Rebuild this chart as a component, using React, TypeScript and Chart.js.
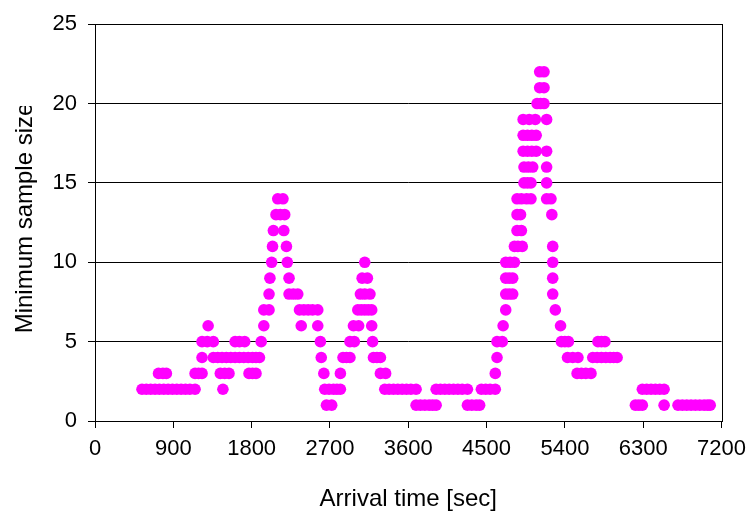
import React, { useEffect, useRef } from "react";
import { Chart, registerables } from "chart.js";

Chart.register(...registerables);

// Arrival times (sec) observed for each minimum sample size level
const size1 = [2660, 2720, 3690, 3740, 3790, 3840, 3880, 3920, 4280, 4330, 4380, 4420, 6210, 6250, 6290, 6540, 6700, 6750, 6800, 6850, 6900, 6950, 7000, 7040, 7070];
const size2 = [540, 590, 640, 690, 740, 790, 840, 890, 940, 990, 1040, 1090, 1150, 1470, 2640, 2690, 2740, 2780, 2820, 3330, 3380, 3430, 3480, 3530, 3580, 3630, 3690, 3920, 3970, 4020, 4070, 4120, 4170, 4220, 4280, 4440, 4490, 4540, 4600, 6290, 6340, 6390, 6440, 6490, 6540];
const size3 = [730, 780, 820, 1150, 1190, 1230, 1440, 1490, 1540, 1770, 1810, 1850, 2630, 2820, 3280, 3340, 4600, 5540, 5590, 5640, 5700];
const size4 = [1230, 1360, 1410, 1460, 1510, 1560, 1610, 1660, 1710, 1760, 1810, 1850, 1890, 2600, 2850, 2890, 2930, 3200, 3240, 3280, 4620, 5430, 5490, 5550, 5720, 5770, 5820, 5870, 5920, 5960, 6000];
const size5 = [1230, 1290, 1360, 1610, 1660, 1720, 1910, 2590, 2930, 2980, 3190, 4620, 4680, 5360, 5400, 5440, 5780, 5820, 5860];
const size6 = [1300, 1940, 2370, 2560, 2970, 3030, 3180, 4690, 5350];
const size7 = [1940, 2000, 2350, 2400, 2450, 2500, 2560, 3020, 3060, 3100, 3140, 3180, 4720, 5290];
const size8 = [2000, 2230, 2280, 2330, 3050, 3100, 3160, 4720, 4760, 4800, 5260];
const size9 = [2010, 2230, 3070, 3130, 4720, 4760, 4800, 5260];
const size10 = [2030, 2210, 3100, 4720, 4770, 4820, 5260];
const size11 = [2040, 2200, 4820, 4860, 4910, 5260];
const size12 = [2050, 2170, 4850, 4900];
const size13 = [2080, 2130, 2180, 4850, 4890, 5250];
const size14 = [2100, 2160, 4850, 4900, 4960, 5010, 5190, 5240];
const size15 = [4930, 4970, 5010, 5190];
const size16 = [4930, 4980, 5030, 5190];
const size17 = [4920, 4970, 5020, 5070, 5190];
const size18 = [4920, 4970, 5020, 5070];
const size19 = [4920, 4990, 5060, 5190];
const size20 = [5080, 5120, 5160];
const size21 = [5110, 5160];
const size22 = [5110, 5160];

const levels: [number, number[]][] = [
  [1, size1], [2, size2], [3, size3], [4, size4], [5, size5], [6, size6],
  [7, size7], [8, size8], [9, size9], [10, size10], [11, size11], [12, size12],
  [13, size13], [14, size14], [15, size15], [16, size16], [17, size17], [18, size18],
  [19, size19], [20, size20], [21, size21], [22, size22],
];

const xTitle = "Arrival time [sec]";
const yTitle = "Minimum sample size";
const xMax = 7200;
const xStep = 900;
const yMax = 25;
const yStep = 5;

const FONT = "'Liberation Sans', Arial, sans-serif";

export default function App() {
  const ref = useRef<HTMLCanvasElement | null>(null);

  useEffect(() => {
    document.body.style.margin = "0";
    const points = levels.flatMap(([y, xs]) => xs.map((x) => ({ x, y })));

    const frame = {
      id: "frame",
      afterDraw(chart: any) {
        const { ctx, chartArea } = chart;
        ctx.save();
        ctx.strokeStyle = "#000";
        ctx.lineWidth = 1;
        ctx.strokeRect(
          Math.round(chartArea.left) + 0.5,
          Math.round(chartArea.top) + 0.5,
          Math.round(chartArea.right - chartArea.left),
          Math.round(chartArea.bottom - chartArea.top)
        );
        ctx.fillStyle = "#000";
        ctx.font = `24px ${FONT}`;
        ctx.textAlign = "center";
        ctx.textBaseline = "alphabetic";
        ctx.fillText(xTitle, (chartArea.left + chartArea.right) / 2, 506);
        // y title (clipped at the top like the original)
        ctx.save();
        ctx.beginPath();
        ctx.rect(0, 106, 95, 400);
        ctx.clip();
        ctx.translate(32, 218);
        ctx.rotate(-Math.PI / 2);
        ctx.fillText(yTitle, 0, 0);
        ctx.restore();
        ctx.restore();
      },
    };

    const chart = new Chart(ref.current as HTMLCanvasElement, {
      type: "scatter",
      data: {
        datasets: [
          {
            data: points,
            backgroundColor: "#FF00FF",
            borderColor: "#FF00FF",
            borderWidth: 0,
            pointRadius: 5.8,
            pointHoverRadius: 5.8,
          },
        ],
      },
      options: {
        animation: false,
        responsive: false,
        devicePixelRatio: 1,
        layout: { padding: { left: 0, top: 23, right: 30, bottom: 0 } },
        plugins: { legend: { display: false }, tooltip: { enabled: false } },
        scales: {
          x: {
            type: "linear",
            min: 0,
            max: xMax,
            afterFit: (s: any) => { s.height = 95; },
            ticks: {
              stepSize: xStep,
              color: "#000",
              padding: 8,
              maxRotation: 0,
              font: { family: FONT, size: 22 },
              callback: (v: any) => String(v),
            },
            grid: { drawOnChartArea: false, drawTicks: true, tickLength: 7, color: "#000" },
            border: { color: "#000" },
          },
          y: {
            min: 0,
            max: yMax,
            afterFit: (s: any) => { s.width = 95; },
            ticks: {
              stepSize: yStep,
              color: "#000",
              padding: 11,
              font: { family: FONT, size: 22 },
              callback: (v: any) => String(v),
            },
            grid: { color: "#000", tickLength: 7 },
            border: { color: "#000" },
          },
        },
      },
      plugins: [frame],
    });
    return () => chart.destroy();
  }, []);

  return (
    <div style={{ position: "absolute", left: 0, top: 0, width: 754, height: 516, background: "#fff" }}>
      <canvas ref={ref} width={754} height={516} />
    </div>
  );
}
